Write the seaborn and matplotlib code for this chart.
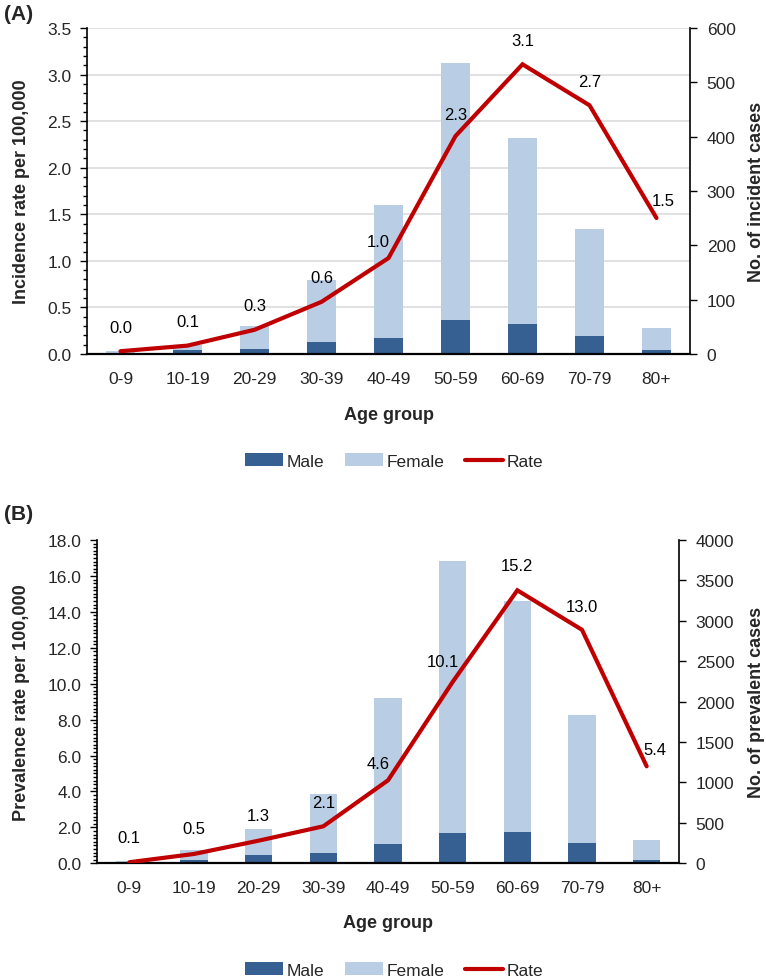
import numpy as np
import pandas as pd
import matplotlib
matplotlib.use("Agg")
import matplotlib.pyplot as plt
from matplotlib.patches import Patch
from matplotlib.lines import Line2D
from matplotlib.ticker import MultipleLocator
import seaborn as sns

# ---------------- data ----------------
age_groups = ["0-9", "10-19", "20-29", "30-39", "40-49", "50-59", "60-69", "70-79", "80+"]

# Panel A: incidence
inc_male = [1, 8, 10, 23, 29, 62, 55, 33, 8]
inc_female = [4, 9, 42, 113, 245, 474, 342, 197, 40]
inc_rate = [0.03, 0.09, 0.26, 0.56, 1.03, 2.34, 3.11, 2.67, 1.46]

# Panel B: prevalence
prev_male = [5, 45, 103, 127, 243, 379, 387, 255, 41]
prev_female = [20, 116, 321, 730, 1797, 3366, 2863, 1580, 247]
prev_rate = [0.06, 0.52, 1.26, 2.06, 4.62, 10.1, 15.2, 13.0, 5.4]

# ---------------- style ----------------
sns.set_theme(style="white")
plt.rcParams["font.family"] = ["Liberation Sans", "DejaVu Sans"]

DARK = "#376092"
LIGHT = "#B9CDE5"
RED = "#C00000"
TICK_FS = 12.5
LABEL_FS = 13
DATA_FS = 12

W, H = 766, 979
fig = plt.figure(figsize=(W / 100, H / 100), dpi=100)


def px_axes(left, top, right, bottom):
    return [left / W, 1 - bottom / H, (right - left) / W, (bottom - top) / H]


def panel(rect, male, female, rate, rmax, rmajor, rminor, cmax, cstep,
          ylabel_l, ylabel_r, lab_l_x, lab_r_x, xlab_y, offsets, grid):
    total = [m + f for m, f in zip(male, female)]
    df = pd.DataFrame({"age": age_groups, "male": male, "total": total, "rate": rate})

    ax = fig.add_axes(rect)          # rate axis (left) with grid
    ax2 = ax.twinx()                 # counts axis (right) with bars
    ax3 = ax.twinx()                 # rate line on top

    sns.barplot(data=df, x="age", y="total", color=LIGHT, saturation=1, width=0.42,
                linewidth=0, errorbar=None, ax=ax2)
    sns.barplot(data=df, x="age", y="male", color=DARK, saturation=1, width=0.42,
                linewidth=0, errorbar=None, ax=ax2)
    sns.lineplot(x=np.arange(len(age_groups)), y=rate, color=RED, linewidth=3.0,
                 ax=ax3, solid_joinstyle="miter")

    for a in (ax, ax2, ax3):
        a.set_xlim(-0.5, len(age_groups) - 0.5)
    ax.set_ylim(0, rmax)
    ax3.set_ylim(0, rmax)
    ax2.set_ylim(0, cmax)

    # data labels
    for i, r in enumerate(rate):
        dx, dy = offsets[i]
        ax3.annotate(f"{r:.1f}", (i, r), xytext=(dx, dy), textcoords="offset pixels",
                     ha="center", va="center", fontsize=DATA_FS, color="#000000")

    # left axis
    ax.yaxis.set_major_locator(MultipleLocator(rmajor))
    ax.yaxis.set_minor_locator(MultipleLocator(rminor))
    ax.yaxis.set_major_formatter(matplotlib.ticker.FormatStrFormatter("%.1f"))
    ax.tick_params(axis="y", which="major", left=True, length=5, width=1, direction="out",
                   labelsize=TICK_FS, pad=6, color="black")
    ax.tick_params(axis="y", which="minor", left=True, length=3, width=1, direction="out",
                   color="black")
    ax.set_xticks(range(len(age_groups)))
    ax.set_xticklabels(age_groups)
    ax.tick_params(axis="x", bottom=False, length=0, labelsize=TICK_FS, pad=12)
    if grid:
        ax.grid(axis="y", which="major", color="#D9D9D9", linewidth=1.1)
    else:
        ax.grid(False)
    ax.grid(axis="x", visible=False)
    for s in ("top", "right"):
        ax.spines[s].set_visible(False)
    for s in ("left", "bottom"):
        ax.spines[s].set_color("black")
        ax.spines[s].set_linewidth(1.2)

    # right axis
    ax2.yaxis.set_major_locator(MultipleLocator(cstep))
    ax2.tick_params(axis="y", right=True, length=5, width=1, direction="out",
                    labelsize=TICK_FS, pad=7, color="black")
    ax2.grid(False)
    for s in ("top", "left"):
        ax2.spines[s].set_visible(False)
    ax2.spines["right"].set_color("black")
    ax2.spines["right"].set_linewidth(1.2)
    ax2.spines["bottom"].set_color("black")
    ax2.spines["bottom"].set_linewidth(1.6)
    ax2.set_xlabel("")
    ax2.set_ylabel(ylabel_r, fontsize=LABEL_FS, fontweight="bold")
    ax2.yaxis.set_label_coords(lab_r_x, 0.5)

    ax3.axis("off")

    ax.set_ylabel(ylabel_l, fontsize=LABEL_FS, fontweight="bold")
    ax.yaxis.set_label_coords(lab_l_x, 0.5)
    ax.set_xlabel("Age group", fontsize=LABEL_FS, fontweight="bold")
    ax.xaxis.set_label_coords(0.5, xlab_y)
    return ax


offs_a = [(0, 24), (0, 24), (0, 24), (0, 24), (-10, 17), (0, 22), (0, 24), (0, 24), (7, 18)]
panel(px_axes(87, 29, 690, 355), inc_male, inc_female, inc_rate,
      3.5, 0.5, 0.1, 600, 100,
      "Incidence rate per 100,000", "No. of incident cases",
      -0.0945, 1.097, -0.158, offs_a, grid=True)

offs_b = [(0, 25), (0, 25), (0, 25), (0, 24), (-10, 17), (-10, 20), (0, 25), (0, 23), (8, 17)]
panel(px_axes(97, 541, 679, 864.3), prev_male, prev_female, prev_rate,
      18.0, 2.0, 0.2, 4000, 500,
      "Prevalence rate per 100,000", "No. of prevalent cases",
      -0.115, 1.119, -0.157, offs_b, grid=False)

fig.text(4 / W, 1 - 15 / H, "(A)", fontsize=15, fontweight="bold", ha="left", va="center")
fig.text(4 / W, 1 - 515 / H, "(B)", fontsize=15, fontweight="bold", ha="left", va="center")

handles = [Patch(facecolor=DARK, edgecolor="none"),
           Patch(facecolor=LIGHT, edgecolor="none"),
           Line2D([0], [0], color=RED, linewidth=3.0)]
labels = ["Male", "Female", "Rate"]
for yc in (462, 971):
    fig.legend(handles, labels, loc="center", bbox_to_anchor=(394 / W, 1 - yc / H),
               ncol=3, frameon=False, fontsize=12.5, handlelength=2.2, handleheight=0.75,
               handletextpad=0.2, columnspacing=1.2, borderaxespad=0, borderpad=0)

fig.savefig("out.png", dpi=100)
